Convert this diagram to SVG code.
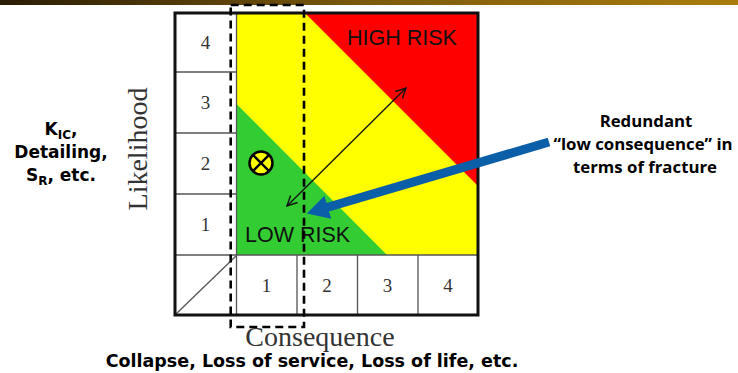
<svg xmlns="http://www.w3.org/2000/svg" width="738" height="373" viewBox="0 0 738 373">
<defs>
<linearGradient id="bar" x1="0" y1="0" x2="1" y2="0">
<stop offset="0" stop-color="#2a1c05"/>
<stop offset="0.5" stop-color="#7d5a0d"/>
<stop offset="1" stop-color="#a97c0c"/>
</linearGradient>
<marker id="v" viewBox="0 0 12 12" refX="11" refY="6" markerWidth="12" markerHeight="12" markerUnits="userSpaceOnUse" orient="auto-start-reverse">
<path d="M1,1 L11,6 L1,11" fill="none" stroke="#111" stroke-width="1.4"/>
</marker>
<marker id="bh" viewBox="0 0 22 24" refX="2" refY="12" markerWidth="22" markerHeight="24" markerUnits="userSpaceOnUse" orient="auto">
<path d="M0,0 L22,12 L0,24 Z" fill="#0b5ea8"/>
</marker>
</defs>
<style>
.num{font-family:"Liberation Serif",serif;font-size:19px;fill:#333;text-anchor:middle}
.ax{font-family:"Liberation Serif",serif;font-size:28px;fill:#333;text-anchor:middle}
.risk{font-family:"Liberation Sans",Arial,sans-serif;font-size:21.5px;fill:#111}
.bold{font-family:"DejaVu Sans",Verdana,sans-serif;font-weight:bold;fill:#000;text-anchor:middle}
.cal{font-family:"Open Sans","Liberation Sans",sans-serif;font-weight:bold;font-size:16.8px;fill:#000;text-anchor:middle}
.grid{stroke:#555;stroke-width:1.3;fill:none}
.dash{stroke:#000;stroke-width:2.6;fill:none;stroke-dasharray:8 5}
</style>
<rect x="0" y="0" width="738" height="5" fill="url(#bar)"/>
<g id="matrix">
<rect x="236.5" y="13" width="241.5" height="242" fill="#ffff00"/>
<polygon points="305,13 478,13 478,186" fill="#ff0000"/>
<polygon points="236.5,104 387,255 236.5,255" fill="#33cc33"/>
<path class="grid" d="M175,72H236.5M175,133H236.5M175,194H236.5M175,255H478M236.5,13V315M297,255V315M357.5,255V315M418,255V315"/>
<path class="grid" d="M176,314L236,256"/>
<rect x="175" y="13" width="303" height="302" fill="none" stroke="#111" stroke-width="3"/>
</g>
<g id="likelihood-labels">
<text class="num" x="205.5" y="49">4</text>
<text class="num" x="205.5" y="109">3</text>
<text class="num" x="205.5" y="170">2</text>
<text class="num" x="205.5" y="231">1</text>
</g>
<g id="consequence-labels">
<text class="num" x="266.5" y="292">1</text>
<text class="num" x="327" y="292">2</text>
<text class="num" x="387.5" y="292">3</text>
<text class="num" x="448" y="292">4</text>
</g>
<g id="high-risk"><text class="risk" x="347" y="45">HIGH RISK</text></g>
<g id="low-risk"><text class="risk" x="245" y="242">LOW RISK</text></g>
<g id="dashed-column"><rect class="dash" x="230.7" y="5" width="73.3" height="322"/></g>
<g id="marker-point">
<circle cx="261" cy="163" r="11.5" fill="#ffff00" stroke="#000" stroke-width="2.5"/>
<path d="M252.9,154.9L269.1,171.1M269.1,154.9L252.9,171.1" stroke="#000" stroke-width="2.3"/>
</g>
<g id="connectors">
<line x1="287" y1="206" x2="406" y2="88" stroke="#111" stroke-width="1.3" marker-start="url(#v)" marker-end="url(#v)"/>
<line x1="549" y1="142" x2="326" y2="207.8" stroke="#0b5ea8" stroke-width="9" marker-end="url(#bh)"/>
</g>
<g id="likelihood-title"><text class="ax" transform="translate(147,149) rotate(-90)">Likelihood</text></g>
<g id="consequence-title"><text class="ax" x="320" y="346">Consequence</text></g>
<g id="consequence-note"><text class="bold" x="312" y="367" font-size="17.5">Collapse, Loss of service, Loss of life, etc.</text></g>
<g id="likelihood-note">
<text class="bold" x="61" y="135" font-size="17">K<tspan font-size="12" dy="4">IC</tspan><tspan dy="-4">,</tspan></text>
<text class="bold" x="61" y="158" font-size="17">Detailing,</text>
<text class="bold" x="61" y="181" font-size="17">S<tspan font-size="12" dy="4">R</tspan><tspan dy="-4">, etc.</tspan></text>
</g>
<g id="redundant-note">
<text class="cal" x="646" y="127">Redundant</text>
<text class="cal" x="643" y="150">“low consequence” in</text>
<text class="cal" x="645" y="173">terms of fracture</text>
</g>
</svg>
